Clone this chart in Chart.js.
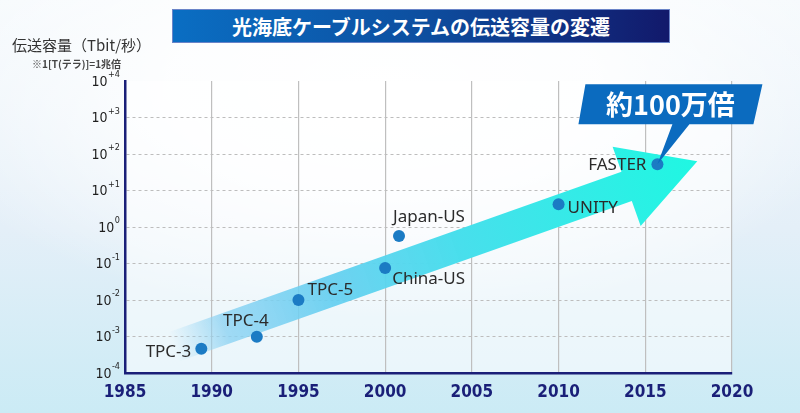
<!DOCTYPE html>
<html lang="ja">
<head>
<meta charset="utf-8">
<title>光海底ケーブルシステムの伝送容量の変遷</title>
<script src="https://cdn.jsdelivr.net/npm/chart.js@4.4.1/dist/chart.umd.min.js"></script>
<style>
  body { margin: 0; }
  #wrap {
    position: relative;
    width: 800px;
    height: 413px;
    overflow: hidden;
    background:
      radial-gradient(ellipse 60% 55% at 48% 22%, #ffffff 0%, rgba(255,255,255,0.85) 45%, rgba(255,255,255,0) 100%),
      linear-gradient(180deg, #f6fafd 0%, #e4eff8 55%, #cbebf5 100%);
  }
  #burnChart { position: absolute; left: 0; top: 0; }
  .title {
    position: absolute;
    left: 172px; top: 9px; width: 498px; height: 34px;
    background: linear-gradient(90deg, #0a6ec3 0%, #0d4fa0 50%, #12196b 100%);
    color: #fff;
    font: bold 20px "Noto Sans CJK JP", sans-serif;
    line-height: 34px;
    text-align: center;
    box-sizing: border-box;
    border: 1px solid #6a84c8;
  }
  .axis-title {
    position: absolute; left: 12px; top: 34px;
    font: 15px "Noto Sans CJK JP", sans-serif; color: #333;
  }
  .axis-note {
    position: absolute; left: 32px; top: 56px;
    font: bold 10px "Noto Sans CJK JP", sans-serif; color: #444;
  }
</style>
</head>
<body>
<div id="wrap">
  <canvas id="burnChart" width="800" height="413"></canvas>
  <div class="title">光海底ケーブルシステムの伝送容量の変遷</div>
  <div class="axis-title">伝送容量（Tbit/秒）</div>
  <div class="axis-note">※1[T(テラ)]=1兆倍</div>
</div>
<script>
const systemNames = ['TPC-3', 'TPC-4', 'TPC-5', 'China-US', 'Japan-US', 'UNITY', 'FASTER'];
const serviceYears = [1989.4, 1992.6, 1995.0, 2000.0, 2000.8, 2010.0, 2015.7];
const capacityTbps = [0.00046, 0.00098, 0.01, 0.075, 0.57, 4.2, 52];
const yearTicks = [1985, 1990, 1995, 2000, 2005, 2010, 2015, 2020];
const powerTicks = [-4, -3, -2, -1, 0, 1, 2, 3, 4];
const calloutText = '約100万倍';
// trend arrow, tail and tip in data units
const trendYears = [1987.8, 2018.0];
const trendValues = [0.00052, 63];

// label placement next to each point: [dx, dy, align]
const labelPlacement = [
  [-10, 3, 'right'],
  [-11, -16, 'center'],
  [9, -10, 'left'],
  [7, 11, 'left'],
  [-6, -19, 'left'],
  [9, 4, 'left'],
  [-11, 1, 'right'],
];

const NAVY = '#1a1f78';
const POINT_BLUE = '#1b7bc4';
const narrowFont = '"Liberation Sans Narrow", "DejaVu Sans Condensed", sans-serif';

const backdropPlugin = {
  id: 'backdrop',
  beforeDraw(chart) {
    const { ctx, chartArea: a } = chart;
    ctx.save();
    ctx.fillStyle = 'rgba(255,255,255,0.55)';
    ctx.fillRect(a.left, a.top, a.right - a.left, a.bottom - a.top);
    ctx.restore();
  },
};

const arrowPlugin = {
  id: 'trendArrow',
  beforeDatasetsDraw(chart) {
    const { ctx, scales } = chart;
    const x0 = scales.x.getPixelForValue(trendYears[0]);
    const y0 = scales.y.getPixelForValue(trendValues[0]);
    const x1 = scales.x.getPixelForValue(trendYears[1]);
    const y1 = scales.y.getPixelForValue(trendValues[1]);
    const len = Math.hypot(x1 - x0, y1 - y0);
    const ux = (x1 - x0) / len;
    const uy = (y1 - y0) / len;
    const nx = -uy;
    const ny = ux;
    const bodyHalf = 15.5;
    const headHalf = 42;
    const headLen = 75;
    const bx = x1 - ux * headLen;
    const by = y1 - uy * headLen;

    const grad = ctx.createLinearGradient(x0, y0, x1, y1);
    grad.addColorStop(0, 'rgba(150,212,242,0)');
    grad.addColorStop(0.1, 'rgba(140,210,242,0.8)');
    grad.addColorStop(0.3, 'rgba(100,206,240,0.92)');
    grad.addColorStop(0.55, '#48dfec');
    grad.addColorStop(1, '#1ff7e2');

    ctx.save();
    ctx.beginPath();
    ctx.moveTo(x0 + nx * bodyHalf, y0 + ny * bodyHalf);
    ctx.lineTo(bx + nx * bodyHalf, by + ny * bodyHalf);
    ctx.lineTo(bx + nx * headHalf, by + ny * headHalf);
    ctx.lineTo(x1, y1);
    ctx.lineTo(bx - nx * headHalf, by - ny * headHalf);
    ctx.lineTo(bx - nx * bodyHalf, by - ny * bodyHalf);
    ctx.lineTo(x0 - nx * bodyHalf, y0 - ny * bodyHalf);
    ctx.closePath();
    ctx.fillStyle = grad;
    ctx.fill();
    ctx.restore();
  },
};

const annotationPlugin = {
  id: 'annotations',
  afterDraw(chart) {
    const { ctx, scales, chartArea } = chart;
    const meta = chart.getDatasetMeta(0);

    // power-of-ten tick labels with raised exponent
    ctx.save();
    ctx.fillStyle = '#1e1e1e';
    ctx.textBaseline = 'middle';
    powerTicks.forEach((p) => {
      const py = scales.y.getPixelForValue(Math.pow(10, p));
      const sup = p > 0 ? '+' + p : String(p);
      ctx.font = '9px ' + narrowFont;
      const supW = ctx.measureText(sup).width;
      const right = chartArea.left - 5;
      ctx.textAlign = 'left';
      ctx.fillText(sup, right - supW, py - 6);
      ctx.font = '14px ' + narrowFont;
      ctx.textAlign = 'right';
      ctx.fillText('10', right - supW - 0.5, py + 1);
    });
    ctx.restore();

    // system labels
    ctx.save();
    ctx.fillStyle = '#2b2b2b';
    ctx.font = '17px "Noto Sans", sans-serif';
    ctx.textBaseline = 'middle';
    meta.data.forEach((pt, i) => {
      const [dx, dy, align] = labelPlacement[i];
      ctx.textAlign = align;
      ctx.fillText(systemNames[i], pt.x + dx, pt.y + dy);
    });
    ctx.restore();

    // callout pointing at the last system
    const tip = meta.data[meta.data.length - 1];
    const tx = tip.x;
    const ty = tip.y;
    ctx.save();
    ctx.fillStyle = '#0b6bbf';
    ctx.beginPath();
    ctx.moveTo(tx - 72, ty - 80);
    ctx.lineTo(tx + 105, ty - 80);
    ctx.lineTo(tx + 96, ty - 40);
    ctx.lineTo(tx + 32, ty - 40);
    ctx.lineTo(tx, ty);
    ctx.lineTo(tx + 15, ty - 40);
    ctx.lineTo(tx - 79, ty - 40);
    ctx.closePath();
    ctx.fill();
    ctx.fillStyle = '#fff';
    ctx.font = 'bold 27px "Noto Sans CJK JP", sans-serif';
    ctx.textAlign = 'center';
    ctx.textBaseline = 'middle';
    ctx.fillText(calloutText, tx + 13, ty - 60);
    ctx.restore();
  },
};

function init() {
  const ctx = document.getElementById('burnChart');
  const points = serviceYears.map((year, i) => ({ x: year, y: capacityTbps[i] }));

  new Chart(ctx, {
    type: 'scatter',
    data: {
      datasets: [
        {
          label: '伝送容量',
          data: points,
          pointRadius: 6,
          pointBackgroundColor: POINT_BLUE,
          pointBorderWidth: 0,
        },
      ],
    },
    options: {
      responsive: false,
      animation: false,
      layout: { padding: { left: 0, right: 68, top: 81, bottom: 0 } },
      plugins: {
        legend: { display: false },
        tooltip: { enabled: false },
      },
      scales: {
        x: {
          type: 'linear',
          min: 1985,
          max: 2020,
          afterBuildTicks: (scale) => {
            scale.ticks = yearTicks.map((value) => ({ value }));
          },
          afterFit: (scale) => {
            scale.height = 40;
          },
          ticks: {
            color: NAVY,
            padding: 9,
            maxRotation: 0,
            autoSkip: false,
            font: { family: narrowFont, size: 17, weight: 'bold' },
            callback: (value) => String(value),
          },
          grid: {
            drawTicks: false,
            lineWidth: 1.2,
            color: (c) => (c.tick && c.tick.value === 1985 ? 'rgba(0,0,0,0)' : '#bfbfbf'),
          },
          border: { color: NAVY, width: 2.5 },
        },
        y: {
          type: 'logarithmic',
          min: 1e-4,
          max: 1e4,
          afterBuildTicks: (scale) => {
            scale.ticks = powerTicks.map((p) => ({ value: Math.pow(10, p) }));
          },
          afterFit: (scale) => {
            scale.width = 125;
          },
          ticks: { display: false },
          grid: {
            drawTicks: false,
            lineWidth: 1,
            color: (c) => (c.tick && (c.tick.value >= 1e4 || c.tick.value <= 1e-4) ? 'rgba(0,0,0,0)' : '#bdbdbd'),
          },
          border: { color: NAVY, width: 2.5, dash: [3, 3] },
        },
      },
    },
    plugins: [backdropPlugin, arrowPlugin, annotationPlugin],
  });
}

window.addEventListener('DOMContentLoaded', init);
</script>
</body>
</html>
